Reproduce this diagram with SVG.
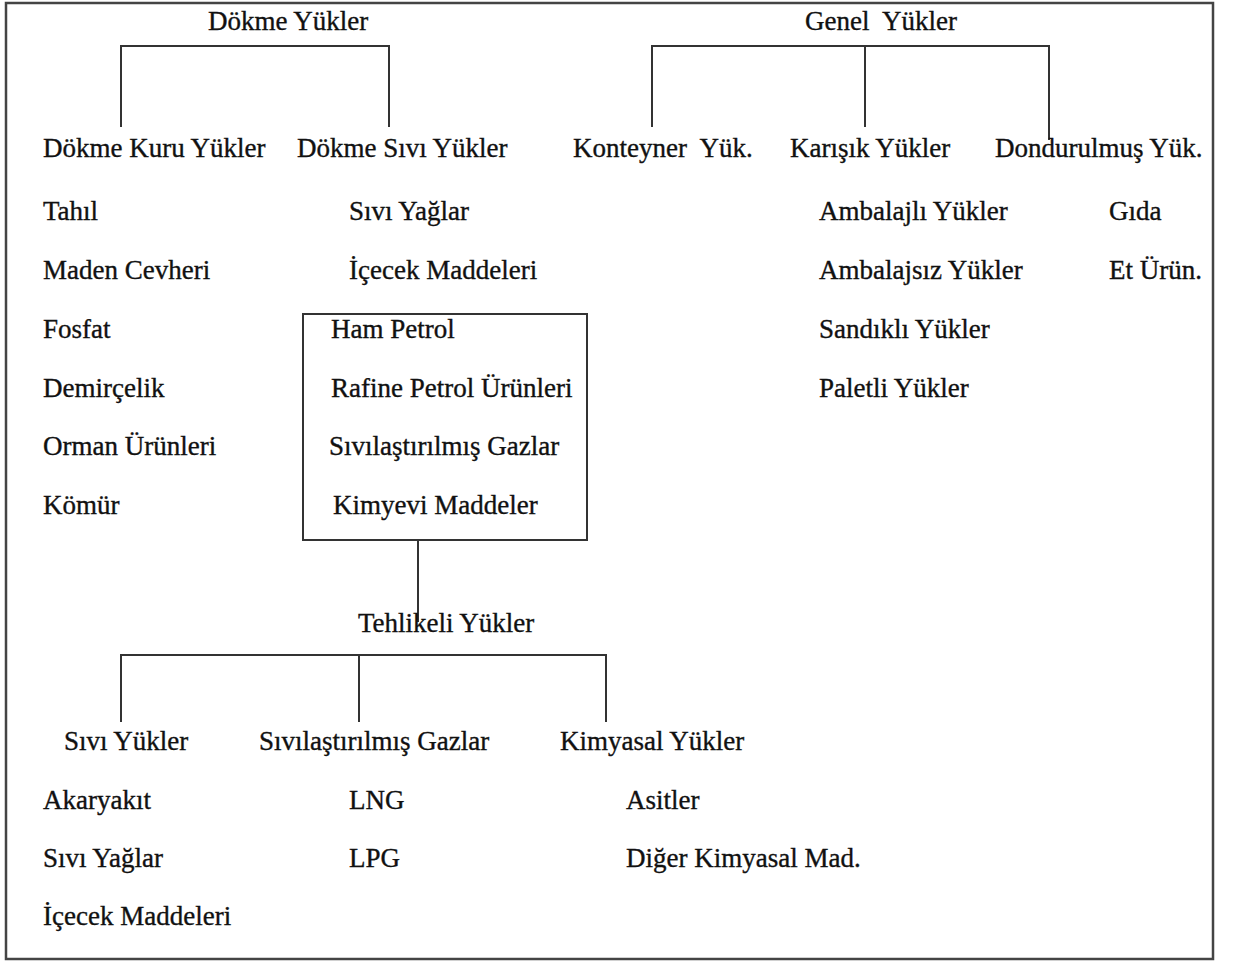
<svg xmlns="http://www.w3.org/2000/svg" width="1233" height="962" viewBox="0 0 1233 962">
<style>
text{font-family:"Liberation Serif","Times New Roman",serif;font-size:27px;fill:#111;stroke:#111;stroke-width:0.35;white-space:pre}
.ln{stroke:#333;stroke-width:2;fill:none}
.frame{stroke:#444;stroke-width:2.5;fill:none}
</style>
<rect width="1233" height="962" fill="#fff"/>
<rect class="frame" x="6" y="3" width="1207" height="956"/>
<g id="connectors">
<path class="ln" d="M121,127 V46 H389 V127"/>
<path class="ln" d="M652,127 V46 H1049 V140 M865,46 V127"/>
<path class="ln" d="M418,540 V622"/>
<path class="ln" d="M121,722 V655 H606 V722 M359,655 V722"/>
</g>
<g id="dokme-yukler"><text x="208" y="30">Dökme Yükler</text></g>
<g id="genel-yukler"><text x="805" y="30" xml:space="preserve">Genel  Yükler</text></g>
<g id="dokme-kuru">
<text x="43" y="157">Dökme Kuru Yükler</text>
<text x="43" y="220">Tahıl</text>
<text x="43" y="279">Maden Cevheri</text>
<text x="43" y="338">Fosfat</text>
<text x="43" y="397">Demirçelik</text>
<text x="43" y="455">Orman Ürünleri</text>
<text x="43" y="514">Kömür</text>
</g>
<g id="dokme-sivi">
<text x="297" y="157">Dökme Sıvı Yükler</text>
<text x="349" y="220">Sıvı Yağlar</text>
<text x="349" y="279">İçecek Maddeleri</text>
</g>
<g id="petrol-box">
<rect class="ln" x="303" y="314" width="284" height="226"/>
<text x="331" y="338">Ham Petrol</text>
<text x="331" y="397">Rafine Petrol Ürünleri</text>
<text x="329" y="455">Sıvılaştırılmış Gazlar</text>
<text x="333" y="514">Kimyevi Maddeler</text>
</g>
<g id="konteyner"><text x="573" y="157" xml:space="preserve">Konteyner  Yük.</text></g>
<g id="karisik">
<text x="790" y="157">Karışık Yükler</text>
<text x="819" y="220">Ambalajlı Yükler</text>
<text x="819" y="279">Ambalajsız Yükler</text>
<text x="819" y="338">Sandıklı Yükler</text>
<text x="819" y="397">Paletli Yükler</text>
</g>
<g id="dondurulmus">
<text x="995" y="157">Dondurulmuş Yük.</text>
<text x="1109" y="220">Gıda</text>
<text x="1109" y="279">Et Ürün.</text>
</g>
<g id="tehlikeli"><text x="358" y="632">Tehlikeli Yükler</text></g>
<g id="sivi-yukler">
<text x="64" y="750">Sıvı Yükler</text>
<text x="43" y="809">Akaryakıt</text>
<text x="43" y="867">Sıvı Yağlar</text>
<text x="43" y="925">İçecek Maddeleri</text>
</g>
<g id="sivilastirilmis">
<text x="259" y="750">Sıvılaştırılmış Gazlar</text>
<text x="349" y="809">LNG</text>
<text x="349" y="867">LPG</text>
</g>
<g id="kimyasal">
<text x="560" y="750">Kimyasal Yükler</text>
<text x="626" y="809">Asitler</text>
<text x="626" y="867">Diğer Kimyasal Mad.</text>
</g>
</svg>
